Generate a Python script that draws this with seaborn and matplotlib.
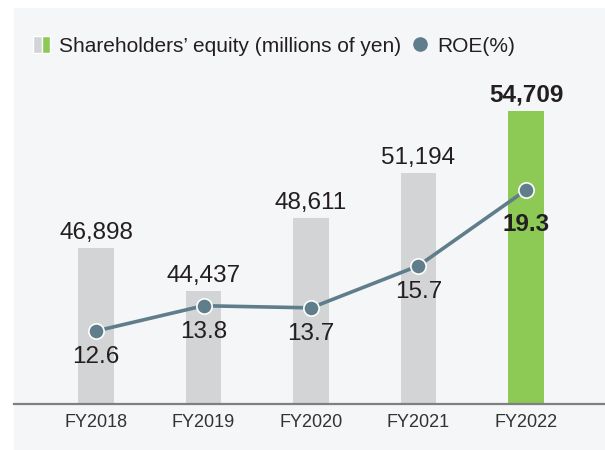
import numpy as np
import seaborn as sns
import matplotlib.pyplot as plt
from matplotlib.patches import Patch, Rectangle
from matplotlib.lines import Line2D
from matplotlib.legend_handler import HandlerTuple

# data
years = ["FY2018", "FY2019", "FY2020", "FY2021", "FY2022"]
equity = [46898, 44437, 48611, 51194, 54709]   # millions of yen
roe = [12.6, 13.8, 13.7, 15.7, 19.3]           # %

GRAY = "#d3d4d6"
GREEN = "#8cc955"
LINE = "#5f7d8b"
BG = "#f5f6f8"
TXT = "#231f20"

sns.set_theme(style="white")
plt.rcParams['font.family'] = ['Liberation Sans', 'DejaVu Sans']

fig = plt.figure(figsize=(6.05, 4.5), dpi=100, facecolor="white")
# light panel behind the whole chart
fig.patches.append(Rectangle((14 / 605, 0), 1, 1 - 8 / 450, transform=fig.transFigure,
                             facecolor=BG, edgecolor="none", zorder=-10))

ax = fig.add_axes([14 / 605, 46 / 450, 1 - 14 / 605, 324 / 450])
ax.set_facecolor("none")

colors = [GRAY] * 4 + [GREEN]
sns.barplot(x=years, y=equity, hue=years, palette=colors, legend=False,
            width=0.326, saturation=1, linewidth=0, edgecolor="none", ax=ax)
ax.set_ylim(38004, 56476)
ax.set_xlim(-0.763, 4.735)

for i, v in enumerate(equity):
    ax.annotate(f"{v:,}", (i, v), xytext=(0, 6.5), textcoords="offset points",
                ha="center", va="baseline", fontsize=17.5, color=TXT,
                fontweight="bold" if i == len(equity) - 1 else "normal")

ax2 = ax.twinx()
sns.lineplot(x=np.arange(len(roe)), y=roe, ax=ax2, color=LINE, linewidth=2.6,
             marker="o", markersize=11, markeredgecolor="white", markeredgewidth=1.2)
ax2.set_ylim(9.13, 24.53)
ax2.set_xlim(-0.763, 4.735)

for i, v in enumerate(roe):
    last = i == len(roe) - 1
    ax2.annotate(f"{v}", (i, v), xytext=(0, -29.5 if last else -23), textcoords="offset points",
                 ha="center", va="baseline", fontsize=17.5, color=TXT,
                 fontweight="bold" if last else "normal")

for a in (ax, ax2):
    a.set_yticks([])
    a.set_ylabel("")
    for s in a.spines.values():
        s.set_visible(False)
ax.spines["bottom"].set_visible(True)
ax.spines["bottom"].set_color("#7f7f7f")
ax.spines["bottom"].set_linewidth(1.6)
ax.spines["bottom"].set_zorder(5)
ax.tick_params(axis="x", length=0, pad=7, labelsize=13, labelcolor="#333333")
ax.set_xlabel("")

handles = [(Patch(facecolor=GRAY), Patch(facecolor=GREEN)),
           Line2D([], [], marker="o", linestyle="none", markersize=9.5,
                  markerfacecolor=LINE, markeredgecolor=LINE)]
fig.legend(handles, ["Shareholders\u2019 equity (millions of yen)", "ROE(%)"],
           handler_map={tuple: HandlerTuple(ndivide=None, pad=0)},
           loc="center left", bbox_to_anchor=(33 / 605, 1 - 46 / 450), ncol=2,
           frameon=False, fontsize=15, handlelength=0.82, handleheight=0.82,
           handletextpad=0.45, columnspacing=0.45, borderpad=0, borderaxespad=0,
           labelcolor=TXT)

fig.savefig("out.png", dpi=100, facecolor="white")
